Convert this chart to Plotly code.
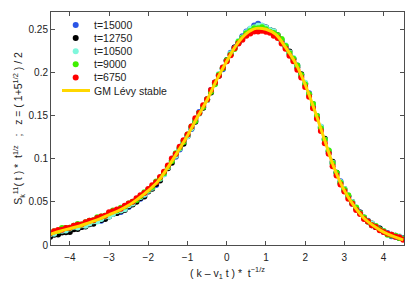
import plotly.graph_objects as go

# ---- data ----
X_GRID = [-4.5, -4.4, -4.3, -4.2, -4.1, -4.0, -3.9, -3.8, -3.7, -3.6,
          -3.5, -3.4, -3.3, -3.2, -3.1, -3.0, -2.9, -2.8, -2.7, -2.6,
          -2.5, -2.4, -2.3, -2.2, -2.1, -2.0, -1.9, -1.8, -1.7, -1.6,
          -1.5, -1.4, -1.3, -1.2, -1.1, -1.0, -0.9, -0.8, -0.7, -0.6,
          -0.5, -0.4, -0.3, -0.2, -0.1, 0.0, 0.1, 0.2, 0.3, 0.4,
          0.5, 0.6, 0.7, 0.8, 0.9, 1.0, 1.1, 1.2, 1.3, 1.4,
          1.5, 1.6, 1.7, 1.8, 1.9, 2.0, 2.1, 2.2, 2.3, 2.4,
          2.5, 2.6, 2.7, 2.8, 2.9, 3.0, 3.1, 3.2, 3.3, 3.4,
          3.5, 3.6, 3.7, 3.8, 3.9, 4.0, 4.1, 4.2, 4.3, 4.4, 4.5]

y_t15000 = [0.0105, 0.0129, 0.0133, 0.0166, 0.0168, 0.0170, 0.0192, 0.0214, 0.0208, 0.0233,
            0.0260, 0.0256, 0.0282, 0.0280, 0.0310, 0.0340, 0.0370, 0.0370, 0.0381, 0.0425,
            0.0440, 0.0480, 0.0521, 0.0536, 0.0582, 0.0640, 0.0662, 0.0696, 0.0768, 0.0820,
            0.0910, 0.0972, 0.1024, 0.1108, 0.1204, 0.1270, 0.1344, 0.1448, 0.1540, 0.1600,
            0.1690, 0.1796, 0.1872, 0.1972, 0.2038, 0.2140, 0.2228, 0.2290, 0.2344, 0.2418,
            0.2475, 0.2500, 0.2543, 0.2563, 0.2542, 0.2520, 0.2490, 0.2456, 0.2410, 0.2376,
            0.2295, 0.2212, 0.2158, 0.2080, 0.1960, 0.1870, 0.1758, 0.1614, 0.1494, 0.1370,
            0.1220, 0.1066, 0.0944, 0.0836, 0.0740, 0.0630, 0.0566, 0.0478, 0.0425, 0.0378,
            0.0310, 0.0282, 0.0230, 0.0210, 0.0190, 0.0150, 0.0140, 0.0100, 0.0096, 0.0090, 0.0082]

y_t12750 = [0.0095, 0.0119, 0.0123, 0.0146, 0.0148, 0.0150, 0.0182, 0.0184, 0.0208, 0.0213,
            0.0240, 0.0246, 0.0282, 0.0290, 0.0300, 0.0330, 0.0360, 0.0370, 0.0391, 0.0405,
            0.0450, 0.0470, 0.0501, 0.0546, 0.0562, 0.0620, 0.0652, 0.0706, 0.0748, 0.0830,
            0.0890, 0.0952, 0.1034, 0.1118, 0.1174, 0.1260, 0.1354, 0.1428, 0.1530, 0.1590,
            0.1680, 0.1766, 0.1882, 0.1962, 0.2048, 0.2140, 0.2208, 0.2290, 0.2344, 0.2408,
            0.2455, 0.2500, 0.2523, 0.2543, 0.2532, 0.2520, 0.2490, 0.2476, 0.2430, 0.2366,
            0.2305, 0.2242, 0.2158, 0.2060, 0.1980, 0.1870, 0.1748, 0.1634, 0.1494, 0.1360,
            0.1230, 0.1086, 0.0964, 0.0836, 0.0720, 0.0650, 0.0566, 0.0498, 0.0425, 0.0378,
            0.0320, 0.0272, 0.0250, 0.0210, 0.0190, 0.0160, 0.0130, 0.0120, 0.0106, 0.0080, 0.0072]

y_t10500 = [0.0125, 0.0129, 0.0163, 0.0166, 0.0168, 0.0190, 0.0212, 0.0204, 0.0228, 0.0223,
            0.0250, 0.0276, 0.0272, 0.0300, 0.0330, 0.0330, 0.0360, 0.0390, 0.0401, 0.0415,
            0.0460, 0.0480, 0.0531, 0.0556, 0.0582, 0.0630, 0.0662, 0.0726, 0.0768, 0.0820,
            0.0900, 0.0982, 0.1034, 0.1118, 0.1204, 0.1260, 0.1354, 0.1448, 0.1520, 0.1610,
            0.1680, 0.1786, 0.1872, 0.1982, 0.2058, 0.2130, 0.2218, 0.2280, 0.2364, 0.2408,
            0.2465, 0.2510, 0.2523, 0.2543, 0.2542, 0.2520, 0.2490, 0.2476, 0.2420, 0.2376,
            0.2315, 0.2232, 0.2168, 0.2070, 0.1960, 0.1880, 0.1748, 0.1634, 0.1494, 0.1370,
            0.1220, 0.1096, 0.0954, 0.0826, 0.0730, 0.0650, 0.0556, 0.0498, 0.0435, 0.0368,
            0.0320, 0.0272, 0.0250, 0.0220, 0.0180, 0.0160, 0.0130, 0.0120, 0.0106, 0.0100, 0.0072]

y_t9000 = [0.0135, 0.0159, 0.0163, 0.0196, 0.0198, 0.0200, 0.0222, 0.0244, 0.0238, 0.0263,
           0.0280, 0.0286, 0.0322, 0.0330, 0.0340, 0.0370, 0.0400, 0.0400, 0.0431, 0.0445,
           0.0480, 0.0500, 0.0521, 0.0566, 0.0612, 0.0640, 0.0672, 0.0736, 0.0778, 0.0830,
           0.0910, 0.0972, 0.1064, 0.1128, 0.1194, 0.1280, 0.1374, 0.1438, 0.1530, 0.1600,
           0.1690, 0.1776, 0.1862, 0.1972, 0.2048, 0.2140, 0.2208, 0.2270, 0.2354, 0.2398,
           0.2455, 0.2480, 0.2513, 0.2513, 0.2522, 0.2500, 0.2470, 0.2456, 0.2430, 0.2386,
           0.2305, 0.2222, 0.2158, 0.2080, 0.1970, 0.1860, 0.1748, 0.1634, 0.1494, 0.1350,
           0.1220, 0.1096, 0.0944, 0.0836, 0.0720, 0.0640, 0.0576, 0.0488, 0.0435, 0.0368,
           0.0320, 0.0272, 0.0230, 0.0220, 0.0180, 0.0160, 0.0120, 0.0110, 0.0106, 0.0080, 0.0072]

y_t6750 = [0.0135, 0.0159, 0.0173, 0.0176, 0.0198, 0.0200, 0.0222, 0.0234, 0.0238, 0.0263,
           0.0280, 0.0286, 0.0312, 0.0330, 0.0340, 0.0380, 0.0390, 0.0410, 0.0421, 0.0455,
           0.0480, 0.0500, 0.0541, 0.0576, 0.0602, 0.0650, 0.0692, 0.0726, 0.0788, 0.0850,
           0.0920, 0.1002, 0.1054, 0.1138, 0.1214, 0.1280, 0.1374, 0.1468, 0.1530, 0.1620,
           0.1690, 0.1796, 0.1882, 0.1962, 0.2058, 0.2130, 0.2198, 0.2280, 0.2334, 0.2378,
           0.2425, 0.2450, 0.2473, 0.2473, 0.2482, 0.2470, 0.2460, 0.2426, 0.2400, 0.2336,
           0.2275, 0.2192, 0.2128, 0.2030, 0.1940, 0.1830, 0.1718, 0.1584, 0.1464, 0.1320,
           0.1180, 0.1056, 0.0914, 0.0806, 0.0700, 0.0620, 0.0536, 0.0478, 0.0405, 0.0358,
           0.0300, 0.0272, 0.0230, 0.0210, 0.0170, 0.0150, 0.0130, 0.0120, 0.0096, 0.0090, 0.0062]

levy_x = [-4.5, -4.25, -4.0, -3.75, -3.5, -3.25, -3.0, -2.75, -2.5, -2.25,
          -2.0, -1.75, -1.5, -1.25, -1.0, -0.75, -0.5, -0.25, 0.0, 0.25,
          0.5, 0.75, 1.0, 1.25, 1.5, 1.75, 2.0, 2.25, 2.5, 2.75,
          3.0, 3.25, 3.5, 3.75, 4.0, 4.25, 4.5]
levy_y = [0.0125, 0.016, 0.019, 0.022, 0.026, 0.030, 0.035, 0.040, 0.046, 0.054,
          0.063, 0.074, 0.090, 0.108, 0.127, 0.148, 0.168, 0.192, 0.213, 0.232,
          0.245, 0.251, 0.250, 0.244, 0.229, 0.211, 0.186, 0.155, 0.121, 0.088,
          0.063, 0.045, 0.031, 0.022, 0.015, 0.010, 0.006]

series_names = ["t=15000", "t=12750", "t=10500", "t=9000", "t=6750"]
series_values = [y_t15000, y_t12750, y_t10500, y_t9000, y_t6750]
series_colors = ["#2b55e6", "#000000", "#7ff7dc", "#3ff000", "#ff0000"]
curve_name = "GM Lévy stable"
curve_color = "#ffd700"

x_ticks = [-4, -3, -2, -1, 0, 1, 2, 3, 4]
y_ticks = [0, 0.05, 0.1, 0.15, 0.2, 0.25]
y_tick_text = ["0", "0.05", "0.1", "0.15", "0.2", "0.25"]

FONT = "Liberation Sans, Arial, sans-serif"
AXIS_COLOR = "#4d4d4d"
TEXT_COLOR = "#222222"

# plot-area geometry (pixels) used to place the hand-built legend
W, H = 415, 281
ML, MR, MT, MB = 51, 11, 12, 36
PW, PH = W - ML - MR, H - MT - MB


def px_x(p):
    return (p - ML) / PW


def px_y(p):
    return (H - MB - p) / PH


fig = go.Figure()
for name, vals, col in zip(series_names, series_values, series_colors):
    fig.add_trace(go.Scatter(
        x=X_GRID, y=vals, mode="markers", name=name,
        marker=dict(color=col, size=6, line=dict(width=0)),
    ))
fig.add_trace(go.Scatter(
    x=levy_x, y=levy_y, mode="lines", name=curve_name,
    line=dict(color=curve_color, width=3, shape="spline", smoothing=1.0),
))

# compact legend (13 px row pitch like the reference)
shapes, annotations = [], []
row0, pitch = 25.0, 13.1
legend_names = series_names + [curve_name]
for i, name in enumerate(legend_names):
    yc = row0 + i * pitch
    if i < len(series_names):
        shapes.append(dict(
            type="circle", xref="paper", yref="paper",
            xsizemode="pixel", ysizemode="pixel",
            xanchor=px_x(75.7), yanchor=px_y(yc),
            x0=-3, x1=3, y0=-3, y1=3,
            fillcolor=series_colors[i], line=dict(width=0),
        ))
    else:
        shapes.append(dict(
            type="line", xref="paper", yref="paper",
            x0=px_x(62), x1=px_x(90), y0=px_y(yc), y1=px_y(yc),
            line=dict(color=curve_color, width=3),
        ))
    annotations.append(dict(
        xref="paper", yref="paper", x=px_x(92), y=px_y(yc),
        xanchor="left", yanchor="middle", showarrow=False,
        text=name, font=dict(family=FONT, size=10.5, color=TEXT_COLOR),
    ))

axis_common = dict(
    showline=True, linecolor=AXIS_COLOR, linewidth=1, mirror="allticks",
    ticks="inside", ticklen=4, tickcolor=AXIS_COLOR, tickwidth=1,
    showgrid=False, zeroline=False, automargin=False,
    tickfont=dict(family=FONT, size=10, color=TEXT_COLOR),
)

fig.update_layout(
    width=W, height=H,
    margin=dict(l=ML, r=MR, t=MT, b=MB, autoexpand=False),
    paper_bgcolor="white", plot_bgcolor="white",
    font=dict(family=FONT, size=10.5, color=TEXT_COLOR),
    showlegend=False, hovermode=False,
    shapes=shapes, annotations=annotations,
    xaxis=dict(
        range=[-4.48, 4.52], tickvals=x_ticks, ticklabelstandoff=3,
        title=dict(text="( k – v<sub>1</sub> t ) *  t<sup>−1/z</sup>",
                   font=dict(family=FONT, size=10.5, color=TEXT_COLOR), standoff=7),
        **axis_common,
    ),
    yaxis=dict(
        range=[0, 0.27], tickvals=y_ticks, ticktext=y_tick_text,
        title=dict(text="S<sub>k</sub><sup>11</sup>( t ) *  t<sup>1/z</sup>   ;   z = ( 1+5<sup>1/2</sup> ) / 2",
                   font=dict(family=FONT, size=10.5, color=TEXT_COLOR), standoff=3),
        **axis_common,
    ),
)

# remove the browser's default 8px page margin so the figure sits at (0, 0)
fig.write_html(
    "out.html",
    config={"displayModeBar": False, "staticPlot": True},
    post_script="document.body.style.margin='0px';document.body.style.padding='0px';",
)
